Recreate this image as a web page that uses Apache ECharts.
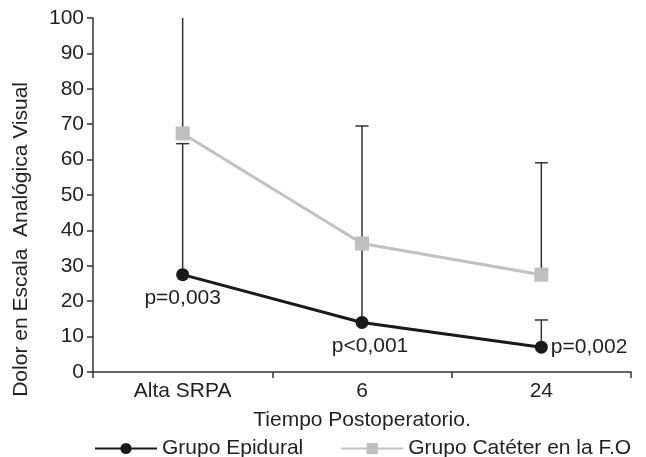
<!DOCTYPE html>
<html>
<head>
<meta charset="utf-8">
<script src="https://cdn.jsdelivr.net/npm/echarts@6/dist/echarts.min.js"></script>
<style>
html, body { margin: 0; padding: 0; background: #fff; }
#chart { width: 646px; height: 457px; }
</style>
</head>
<body>
<div id="chart"></div>
<script>
var categories = ['Alta SRPA', '6', '24'];
var epidural = [27.5, 14, 7];
var epiduralHigh = [64.5, 36.3, 14.7];
var cateter = [67.4, 36.3, 27.5];
var cateterHigh = [104, 69.5, 59.1];
var pLabels = ['p=0,003', 'p<0,001', 'p=0,002'];
var pPos = ['bottom', 'bottom', 'right'];
var yTicks = [0, 100, 10];

var myChart = echarts.init(document.getElementById('chart'));
var font = 'Liberation Sans, Arial, sans-serif';
var ink = '#231f20';
var fs = 21;

function errorBars(low, high, showCap) {
	return {
		type: 'custom',
		z: 1,
		clip: true,
		renderItem: function (params, api) {
			var x = api.value(0);
			var p0 = api.coord([x, api.value(1)]);
			var p1 = api.coord([x, api.value(2)]);
			var children = [{
				type: 'line',
				shape: { x1: p0[0], y1: p0[1], x2: p1[0], y2: p1[1] },
				style: { stroke: '#333', lineWidth: 1.5 }
			}];
			if (showCap[params.dataIndex]) {
				children.push({
					type: 'line',
					shape: { x1: p1[0] - 6.5, y1: p1[1], x2: p1[0] + 6.5, y2: p1[1] },
					style: { stroke: '#333', lineWidth: 1.5 }
				});
			}
			return { type: 'group', children: children };
		},
		data: low.map(function (v, i) { return [i, v, high[i]]; })
	};
}

var option = {
	animation: false,
	grid: { left: 93, right: 15, top: 18, bottom: 85, containLabel: false },
	legend: {
		left: 89,
		top: 433,
		itemWidth: 62,
		itemHeight: 14,
		itemGap: 37,
		textStyle: { color: ink, fontFamily: font, fontSize: fs },
		data: ['Grupo Epidural', 'Grupo Catéter en la F.O']
	},
	xAxis: {
		type: 'category',
		data: categories,
		boundaryGap: true,
		name: 'Tiempo Postoperatorio.',
		nameLocation: 'middle',
		nameGap: 38,
		nameTextStyle: { color: ink, fontFamily: font, fontSize: fs },
		axisLine: { lineStyle: { color: '#333', width: 1.5 } },
		axisTick: { show: true, length: 6, lineStyle: { color: '#333', width: 1.5 } },
		axisLabel: { color: ink, fontFamily: font, fontSize: fs, margin: 9 }
	},
	yAxis: {
		type: 'value',
		min: yTicks[0],
		max: yTicks[1],
		interval: yTicks[2],
		splitLine: { show: false },
		axisLine: { show: true, lineStyle: { color: '#333', width: 1.5 } },
		axisTick: { show: true, length: 6, lineStyle: { color: '#333', width: 1.5 } },
		axisLabel: { color: ink, fontFamily: font, fontSize: fs, margin: 9 }
	},
	graphic: [{
		type: 'text',
		left: 11,
		top: 82,
		rotation: Math.PI / 2,
		style: {
			text: 'Dolor en Escala  Analógica Visual',
			fill: ink,
			font: fs + 'px ' + font
		},
		originX: 0,
		originY: 0
	}],
	series: [
		errorBars(epidural, epiduralHigh, [1, 0, 1]),
		errorBars(cateter, cateterHigh, [1, 1, 1]),
		{
			name: 'Grupo Catéter en la F.O',
			type: 'line',
			z: 3,
			symbol: 'rect',
			symbolSize: 14,
			lineStyle: { color: '#c2c2c2', width: 3 },
			itemStyle: { color: '#bebfc1' },
			data: cateter
		},
		{
			name: 'Grupo Epidural',
			type: 'line',
			z: 4,
			symbol: 'circle',
			symbolSize: 13,
			lineStyle: { color: '#1a1a1a', width: 3 },
			itemStyle: { color: '#1a1a1a' },
			label: {
				show: true,
				color: ink,
				fontFamily: font,
				fontSize: fs,
				distance: 7,
				formatter: function (p) { return pLabels[p.dataIndex]; }
			},
			data: epidural.map(function (v, i) {
				var lbl = { position: pPos[i] };
				if (i === 1) lbl.offset = [8, 0];
				if (i === 2) lbl.distance = 3;
				return { value: v, label: lbl };
			})
		}
	]
};
myChart.setOption(option);
</script>
</body>
</html>
